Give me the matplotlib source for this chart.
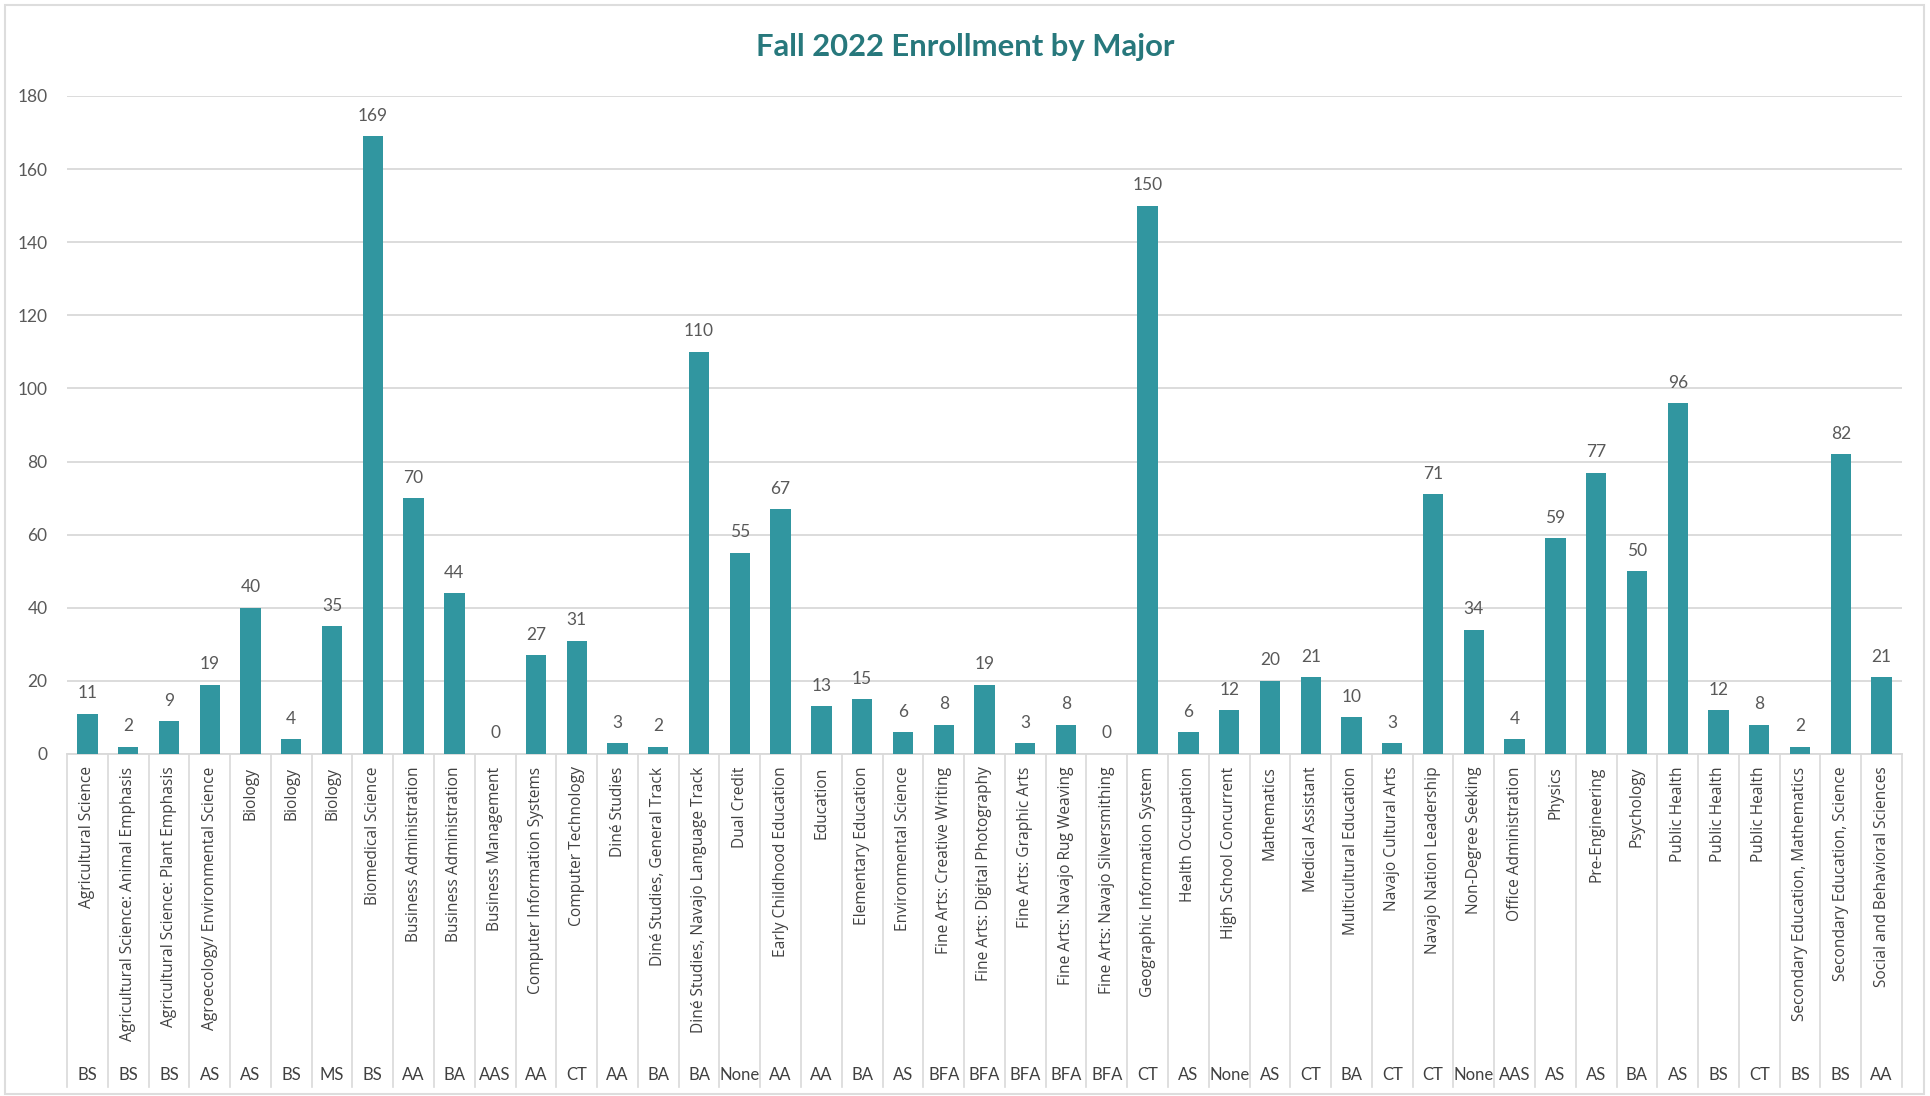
import matplotlib
matplotlib.use("Agg")
import matplotlib.pyplot as plt
import matplotlib.transforms as mtransforms
from matplotlib.patches import Rectangle

majors = [
    "Agricultural Science", "Agricultural Science: Animal Emphasis",
    "Agricultural Science: Plant Emphasis", "Agroecology/ Environmental Science",
    "Biology", "Biology", "Biology", "Biomedical Science",
    "Business Administration", "Business Administration", "Business Management",
    "Computer Information Systems", "Computer Technology", "Diné Studies",
    "Diné Studies, General Track", "Diné Studies, Navajo Language Track",
    "Dual Credit", "Early Childhood Education", "Education", "Elementary Education",
    "Environmental Science", "Fine Arts: Creative Writing", "Fine Arts: Digital Photography",
    "Fine Arts: Graphic Arts", "Fine Arts: Navajo Rug Weaving", "Fine Arts: Navajo Silversmithing",
    "Geographic Information System", "Health Occupation", "High School Concurrent",
    "Mathematics", "Medical Assistant", "Multicultural Education", "Navajo Cultural Arts",
    "Navajo Nation Leadership", "Non-Degree Seeking", "Office Administration",
    "Physics", "Pre-Engineering", "Psychology", "Public Health", "Public Health",
    "Public Health", "Secondary Education, Mathematics", "Secondary Education, Science",
    "Social and Behavioral Sciences",
]
degrees = [
    "BS", "BS", "BS", "AS", "AS", "BS", "MS", "BS", "AA", "BA", "AAS", "AA", "CT",
    "AA", "BA", "BA", "None", "AA", "AA", "BA", "AS", "BFA", "BFA", "BFA", "BFA",
    "BFA", "CT", "AS", "None", "AS", "CT", "BA", "CT", "CT", "None", "AAS", "AS",
    "AS", "BA", "AS", "BS", "CT", "BS", "BS", "AA",
]
enrollment = [
    11, 2, 9, 19, 40, 4, 35, 169, 70, 44, 0, 27, 31, 3, 2, 110, 55, 67, 13, 15,
    6, 8, 19, 3, 8, 0, 150, 6, 12, 20, 21, 10, 3, 71, 34, 4, 59, 77, 50, 96, 12,
    8, 2, 82, 21,
]
yticks = [0, 20, 40, 60, 80, 100, 120, 140, 160, 180]

BAR = "#3196A0"
TXT = "#595959"
GRID = "#D9D9D9"
FONT = ["Lato", "DejaVu Sans"]
LABFONT = ["Open Sans", "DejaVu Sans"]

W, H = 1931, 1096
fig = plt.figure(figsize=(W / 100, H / 100), dpi=100)
fig.patch.set_facecolor("white")

x0, x1 = 67, 1902
ybot, ytop = 754, 96
ax = fig.add_axes([x0 / W, 1 - ybot / H, (x1 - x0) / W, (ybot - ytop) / H])

n = len(enrollment)
xs = list(range(n))
ax.bar(xs, enrollment, width=0.5, color=BAR, zorder=3)
ax.set_xlim(-0.5, n - 0.5)
ax.set_ylim(0, 180)
ax.set_yticks(yticks)
ax.set_yticklabels([str(t) for t in yticks], fontsize=12.5, color=TXT, family=FONT)
ax.tick_params(axis="y", length=0, pad=14)
ax.yaxis.grid(True, color=GRID, linewidth=1.3, zorder=0)
for s in ["top", "right", "left"]:
    ax.spines[s].set_visible(False)
ax.spines["bottom"].set_color(GRID)
ax.spines["bottom"].set_linewidth(1.3)

ax.set_xticks(xs)
ax.set_xticklabels(majors, rotation=90, fontsize=11.2, color="#404040", family=LABFONT,
                   va="top", ha="center")
ax.tick_params(axis="x", length=0, pad=9)

for x, v in zip(xs, enrollment):
    ax.annotate(str(v), (x, v), xytext=(0, 9), textcoords="offset points",
                ha="center", va="bottom", fontsize=12.5, color=TXT, family=FONT)

trans = mtransforms.blended_transform_factory(ax.transData, ax.transAxes)
axh = ybot - ytop
ysep = -(1087 - ybot) / axh
ydeg = -(1075 - ybot) / axh
for b in range(n + 1):
    ax.plot([b - 0.5, b - 0.5], [0, ysep], transform=trans, color=GRID,
            linewidth=1.2, clip_on=False, zorder=1)
for x, d in zip(xs, degrees):
    ax.text(x, ydeg, d, transform=trans, ha="center", va="center",
            fontsize=12, color="#404040", family=FONT)

fig.text(965 / W, 1 - 47 / H, "Fall 2022 Enrollment by Major", ha="center", va="center",
         fontsize=22.3, fontweight="bold", color="#27787C", family=FONT)

fig.patches.append(Rectangle((5 / W, 1 - 1094 / H), (1924 - 5) / W, (1094 - 5) / H,
                             transform=fig.transFigure, fill=False,
                             edgecolor="#DDDDDD", linewidth=1.5))

fig.savefig("out.png", dpi=100, facecolor="white")
